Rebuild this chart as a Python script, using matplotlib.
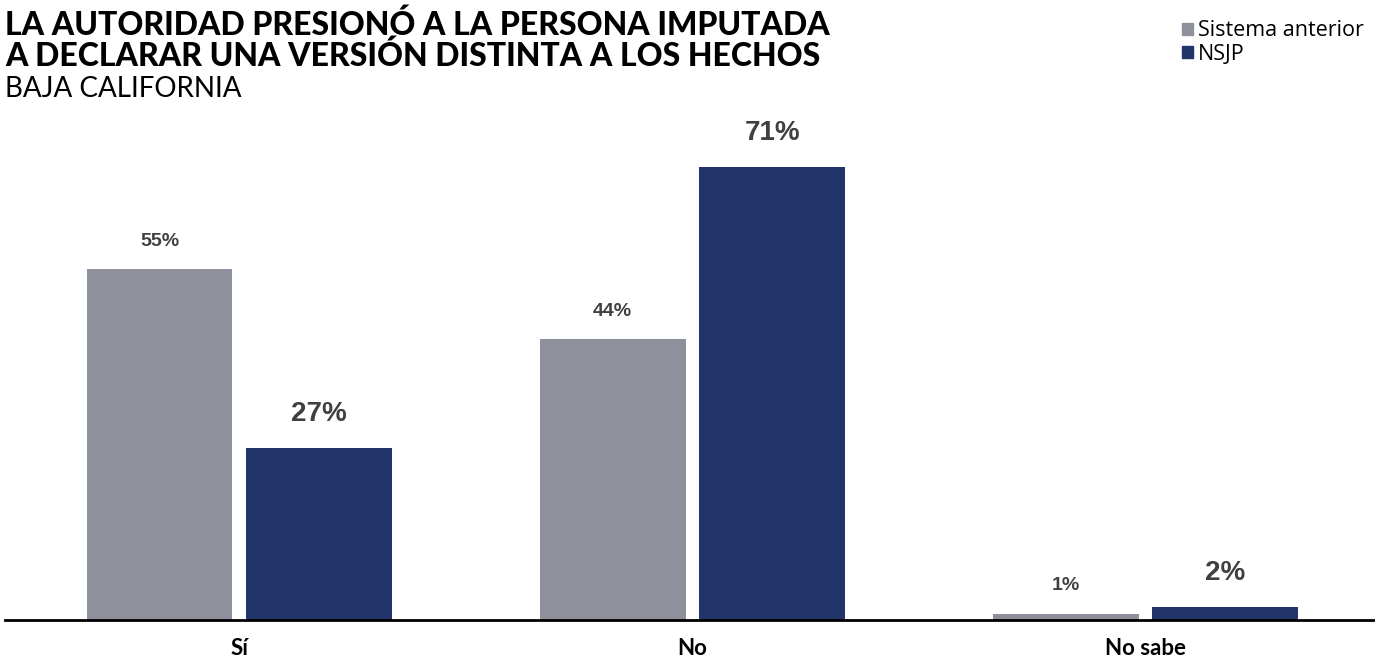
"""Grouped bar chart: presión de la autoridad, Baja California."""

import matplotlib.pyplot as plt
import numpy as np
from matplotlib.patches import Patch

categories = ['Sí', 'No', 'No sabe']
sistema_anterior = [55, 44, 1]
nsjp = [27, 71, 2]
series_names = ['Sistema anterior', 'NSJP']

GRAY = '#8e919c'
NAVY = '#21356b'
LABEL_COLOR = '#404040'

fig = plt.figure(figsize=(13.75, 6.6), dpi=100)
ax = fig.add_axes([0.0036, 0.0606, 0.9964, 0.773])

x = np.arange(len(categories))
width = 0.322
offset = 0.176

bars_a = ax.bar(x - offset, sistema_anterior, width, color=GRAY)
bars_b = ax.bar(x + offset, nsjp, width, color=NAVY)

# Value labels: small for previous system, bigger for NSJP
for bar, value in zip(bars_a, sistema_anterior):
    ax.text(bar.get_x() + bar.get_width() / 2, bar.get_height() + 3.0, f'{value}%',
            ha='center', va='bottom', fontsize=14, fontweight='bold',
            color=LABEL_COLOR, family='Liberation Sans')
for bar, value in zip(bars_b, nsjp):
    ax.text(bar.get_x() + bar.get_width() / 2, bar.get_height() + 3.3, f'{value}%',
            ha='center', va='bottom', fontsize=20, fontweight='bold',
            color=LABEL_COLOR, family='Liberation Sans')

ax.set_xlim(-0.517, 2.506)
ax.set_ylim(0, 80)
ax.set_xticks(x)
ax.set_xticklabels(categories, fontsize=16, fontweight='bold', family='Lato')
ax.tick_params(axis='x', length=0, pad=13)
ax.set_yticks([])
for side in ['top', 'right', 'left']:
    ax.spines[side].set_visible(False)
ax.spines['bottom'].set_linewidth(2)
ax.spines['bottom'].set_color('black')

# Titles
fig.text(0.0036, 0.985, 'LA AUTORIDAD PRESIONÓ A LA PERSONA IMPUTADA\nA DECLARAR UNA VERSIÓN DISTINTA A LOS HECHOS',
         ha='left', va='top', fontsize=23, fontweight='black', family='Lato',
         linespacing=1.0)
fig.text(0.0036, 0.845, 'BAJA CALIFORNIA', ha='left', va='bottom',
         fontsize=20, family='Lato')

handles = [Patch(color=GRAY), Patch(color=NAVY)]
fig.legend(handles, series_names, loc='upper left', bbox_to_anchor=(0.849, 0.992),
           frameon=False, prop={'family': 'Open Sans', 'size': 15.5},
           handlelength=0.5, handleheight=0.5, handletextpad=0.2,
           labelspacing=0.1, borderpad=0.2)

plt.savefig('out.png', dpi=100)
plt.close()
